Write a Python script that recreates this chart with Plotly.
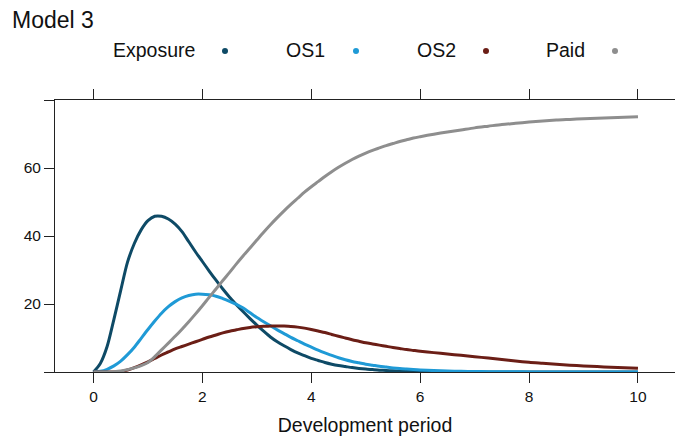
import plotly.graph_objects as go

# ---- data ----
dev = [0, 0.125, 0.25, 0.375, 0.5, 0.625, 0.75, 0.875, 1, 1.125, 1.25, 1.375, 1.5, 1.625,
       1.75, 1.875, 2, 2.125, 2.25, 2.375, 2.5, 2.625, 2.75, 2.875, 3, 3.125, 3.25, 3.375,
       3.5, 3.625, 3.75, 3.875, 4, 4.125, 4.25, 4.375, 4.5, 4.625, 4.75, 4.875, 5, 5.125,
       5.25, 5.375, 5.5, 5.625, 5.75, 5.875, 6, 6.25, 6.5, 6.75, 7, 7.25, 7.5, 7.75, 8,
       8.25, 8.5, 8.75, 9, 9.25, 9.5, 9.75, 10]
exposure = [0, 2.5, 7.5, 15.5, 24.0, 32.3, 37.8, 41.8, 44.5, 45.8, 45.8, 45.0, 43.5, 41.3,
            38.3, 35.3, 32.5, 29.7, 27.0, 24.4, 22.0, 19.8, 17.7, 15.7, 13.8, 12.0, 10.3, 8.9,
            7.7, 6.6, 5.6, 4.8, 4.0, 3.4, 2.8, 2.3, 1.9, 1.6, 1.3, 1.05, 0.85, 0.7,
            0.55, 0.45, 0.35, 0.28, 0.22, 0.18, 0.14, 0.1, 0.07, 0.05, 0.03, 0.02, 0.01, 0, 0,
            0, 0, 0, 0, 0, 0, 0, 0]
os1 = [0, 0.2, 0.8, 1.8, 3.2, 5.1, 7.3, 9.9, 12.5, 15.0, 17.3, 19.2, 20.7, 21.8,
       22.5, 22.9, 22.9, 22.7, 22.3, 21.6, 20.8, 19.9, 18.8, 17.4, 16.0, 14.8, 13.6, 12.4,
       11.3, 10.2, 9.2, 8.2, 7.3, 6.4, 5.6, 4.9, 4.2, 3.6, 3.1, 2.7, 2.3, 2.0,
       1.7, 1.45, 1.2, 1.0, 0.85, 0.72, 0.6, 0.42, 0.3, 0.21, 0.15, 0.1, 0.07, 0.05, 0.03,
       0.02, 0.01, 0, 0, 0, 0, 0, 0]
os2 = [0, 0, 0, 0, 0.1, 0.6, 1.3, 2.1, 3.0, 4.0, 5.0, 5.9, 6.8, 7.5,
       8.2, 8.9, 9.6, 10.3, 10.9, 11.5, 12.0, 12.4, 12.8, 13.1, 13.3, 13.45, 13.5, 13.55,
       13.5, 13.4, 13.2, 12.9, 12.5, 12.05, 11.6, 11.05, 10.5, 10.0, 9.5, 9.05, 8.6, 8.25,
       7.9, 7.55, 7.2, 6.9, 6.6, 6.35, 6.1, 5.7, 5.3, 4.9, 4.5, 4.1, 3.7, 3.25, 2.85,
       2.55, 2.25, 2.0, 1.8, 1.6, 1.4, 1.25, 1.1]
paid = [0, 0, 0, 0.1, 0.3, 0.7, 1.2, 1.9, 2.8, 4.5, 6.5, 8.5, 10.5, 12.6,
        14.8, 17.1, 19.5, 22.0, 24.4, 26.9, 29.3, 31.8, 34.2, 36.5, 38.8, 41.1, 43.3, 45.4,
        47.4, 49.3, 51.1, 52.9, 54.5, 56.0, 57.5, 58.9, 60.2, 61.4, 62.5, 63.5, 64.4, 65.2,
        65.9, 66.6, 67.2, 67.8, 68.3, 68.8, 69.2, 69.95, 70.6, 71.2, 71.8, 72.3, 72.8, 73.15,
        73.5, 73.8, 74.1, 74.3, 74.5, 74.65, 74.8, 74.95, 75.1]

series_names = ["Exposure", "OS1", "OS2", "Paid"]
series_values = [exposure, os1, os2, paid]
colors = ["#0e4a66", "#1f9ad6", "#6b1e16", "#8e8e8e"]

x_ticks = [0, 2, 4, 6, 8, 10]
y_ticks = [0, 20, 40, 60, 80]
y_ticktext = ["", "20", "40", "60", ""]

W, H = 675, 442
ML, MR, MT, MB = 55, 0, 100, 70
PW, PH = W - ML - MR, H - MT - MB

def px_x(p):
    return (p - ML) / PW

def px_y(p):
    return (H - MB - p) / PH

FONT = "Liberation Sans, Arial, sans-serif"

fig = go.Figure()
for name, vals, col in zip(series_names, series_values, colors):
    fig.add_trace(go.Scatter(x=dev, y=vals, mode="lines", name=name,
                             line=dict(color=col, width=3, shape="spline", smoothing=0.8),
                             showlegend=False, hoverinfo="skip"))

annotations = [dict(text="Model 3", x=px_x(10), y=px_y(20), xref="paper", yref="paper",
                    xanchor="left", yanchor="middle", showarrow=False,
                    font=dict(size=23, color="#111", family=FONT))]
shapes = []
text_right = [197, 327, 458, 587]
dot_x = [225, 356, 486, 615]
for name, col, tr, dx in zip(series_names, colors, text_right, dot_x):
    annotations.append(dict(text=name, x=px_x(tr), y=px_y(50), xref="paper", yref="paper",
                            xanchor="right", yanchor="middle", showarrow=False,
                            font=dict(size=19.5, color="#111", family=FONT)))
    shapes.append(dict(type="circle", xref="paper", yref="paper",
                       xsizemode="pixel", ysizemode="pixel",
                       xanchor=px_x(dx), yanchor=px_y(51),
                       x0=-3, x1=3, y0=-3, y1=3,
                       fillcolor=col, line=dict(width=0)))

fig.update_layout(
    width=W, height=H,
    margin=dict(l=ML, r=MR, t=MT, b=MB),
    paper_bgcolor="white", plot_bgcolor="white",
    font=dict(family=FONT, color="#111"),
    annotations=annotations, shapes=shapes,
    showlegend=False,
)
fig.update_xaxes(range=[-0.707, 10.68], tickvals=x_ticks, ticks="outside", ticklen=10,
                 tickwidth=1, tickcolor="#222", showline=True, linecolor="#222", linewidth=1,
                 mirror="ticks", showgrid=False, zeroline=False, automargin=False,
                 tickfont=dict(size=15.5, color="#111"),
                 title=dict(text="Development period", font=dict(size=19.5, color="#111"),
                            standoff=14))
fig.update_yaxes(range=[0, 80], tickvals=y_ticks, ticktext=y_ticktext, ticks="outside",
                 ticklen=10, tickwidth=1, tickcolor="#222", showline=True, linecolor="#222",
                 linewidth=1, mirror="ticks", showgrid=False, zeroline=False, automargin=False,
                 tickfont=dict(size=15.5, color="#111"))

fig.write_html("out.html", config={"displayModeBar": False},
               post_script="document.body.style.margin='0';"
                           "document.body.style.overflow='hidden';")
